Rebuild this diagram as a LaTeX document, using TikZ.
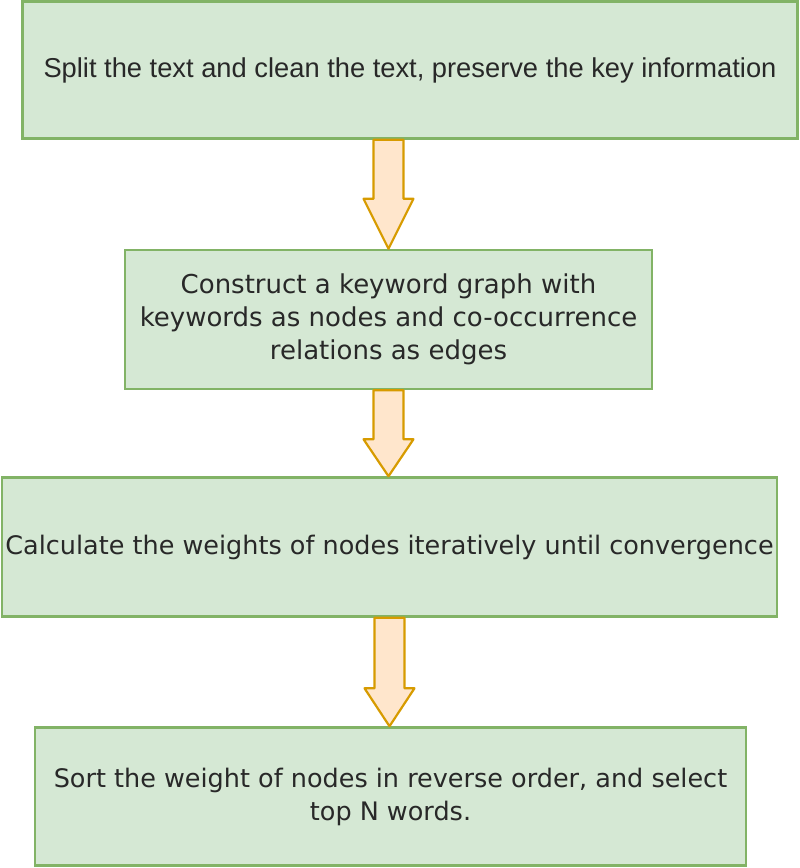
\documentclass[tikz,border=0pt]{standalone}
\usepackage{fontspec}
\setmainfont{Liberation Sans}
\newfontfamily\stepfont{DejaVu Sans}
\usetikzlibrary{calc}
\definecolor{boxfill}{RGB}{213,232,212}
\definecolor{boxline}{RGB}{130,179,102}
\definecolor{arrowfill}{RGB}{255,230,204}
\definecolor{arrowline}{RGB}{215,155,0}
\definecolor{txt}{RGB}{40,40,40}

\begin{document}
\begin{tikzpicture}[
        x={(1pt,0pt)},
        y={(0pt,-1pt)},
        box/.style={rectangle, draw=boxline, fill=boxfill, line width=2.5pt, inner sep=0pt, text=txt, align=center},
        head/.store in=\headlen, head=40pt,
        flow/.style={draw=arrowline, fill=arrowfill, line width=2.2pt, line join=round,
          to path={let \p1=(\tikztostart), \p2=(\tikztotarget) in
            (\x1-15pt,\y1) -- (\x1-15pt,\y2+\headlen) -- (\x1-25pt,\y2+\headlen) -- (\x1,\y2)
            -- (\x1+25pt,\y2+\headlen) -- (\x1+15pt,\y2+\headlen) -- (\x1+15pt,\y1) -- cycle}},
        ]

        \useasboundingbox (0,0) rectangle (800,868);

        \node(split)[box, minimum width=775pt, minimum height=137pt, font=\fontsize{27.3pt}{33pt}\selectfont] at (410,70)
          {Split the text and clean the text, preserve the key information};
        \node(graph)[box, minimum width=527pt, minimum height=139pt, font=\stepfont\fontsize{26pt}{33pt}\selectfont] at (388.5,319.5)
          {Construct a keyword graph with\\keywords as nodes and co-occurrence\\relations as edges};
        \node(weight)[box, minimum width=775pt, minimum height=139pt, font=\stepfont\fontsize{25.5pt}{33pt}\selectfont] at (389.5,547)
          {Calculate the weights of nodes iteratively until convergence};
        \node(sort)[box, minimum width=711pt, minimum height=138pt, font=\stepfont\fontsize{25.5pt}{33pt}\selectfont] at (390.5,796.5)
          {Sort the weight of nodes in reverse order, and select\\top N words.};

        \draw[flow, head=50pt] (split.south -| graph.north) to (graph.north);
        \draw[flow, head=37pt] (graph.south) to (weight.north);
        \draw[flow, head=38pt] (weight.south) to (sort.north);

      \end{tikzpicture}
\end{document}
